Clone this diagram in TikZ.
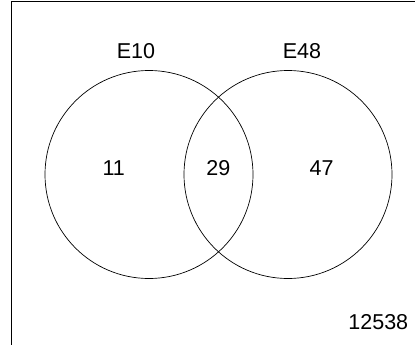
\documentclass[tikz,border=0pt]{standalone}
\usepackage{fontspec}
\setmainfont{Liberation Sans}
\usepackage{tikz}
\usetikzlibrary{positioning}

\begin{document}
\begin{tikzpicture}[x=1pt, y=-1pt,
    setcirc/.style={draw=black, line width=0.7pt},
    frameline/.style={draw=black, line width=1pt},
    lbl/.style={inner sep=0pt, anchor=base, font=\fontsize{21.5}{24}\selectfont}
]
    \useasboundingbox (0,0) rectangle (415,345);

    % ---- Plot frame (left and top edges only) ----
    \draw[frameline] (11,345) -- (11,1.5) -- (415,1.5);

    % ---- Sets ----
    \draw[setcirc] (149,174.5) circle (104);
    \draw[setcirc] (288,174.5) circle (104);

    % Set names
    \node[lbl] (nameA) at (136,58.3) {E10};
    \node[lbl] (nameB) at (302,58.3) {E48};

    % Counts
    \node[lbl] (onlyA) at (113.7,175) {11};
    \node[lbl] (both)  at (218.3,175) {29};
    \node[lbl] (onlyB) at (321.7,175) {47};

    % Outside both sets
    \node[lbl] (rest) at (378.3,329) {12538};
\end{tikzpicture}
\end{document}
